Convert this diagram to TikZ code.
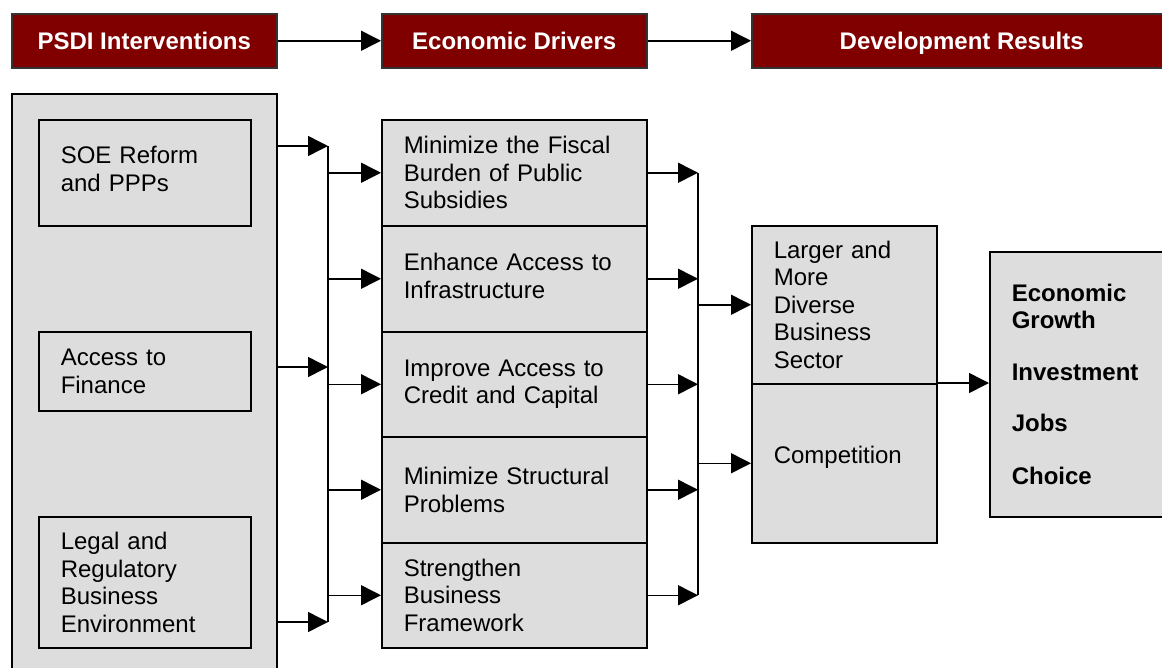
\documentclass[tikz,border=0pt]{standalone}
\usepackage{fontspec}
\setmainfont{Liberation Sans}
\usetikzlibrary{arrows.meta}
\definecolor{hdrred}{RGB}{128,0,0}
\definecolor{boxgray}{RGB}{221,221,221}

\begin{document}
\begin{tikzpicture}[x=1pt,y=-1pt,
  txt/.style={font=\fontsize{24}{27.5}\selectfont},
  hdr/.style={draw=black!80, line width=1.5pt, fill=hdrred, text=white,
    font=\fontsize{24}{27.5}\selectfont\bfseries, minimum height=54pt,
    text height=17pt, text depth=0pt, inner sep=0pt, anchor=north west},
  gbox/.style={txt, draw=black, line width=1.5pt, fill=boxgray, align=left,
    inner xsep=22pt, inner ysep=0pt, anchor=north west},
  arr/.style={line width=1.5pt, -{Triangle[length=20pt,width=20pt]}},
  wire/.style={line width=1.5pt}]

\useasboundingbox (0,0) rectangle (1162,667);
\clip (0,0) rectangle (1162,667);

% column headers
\node[hdr, minimum width=265pt] (h1) at (11,13) {PSDI Interventions};
\node[hdr, minimum width=265pt] (h2) at (381,13) {Economic Drivers};
\node[hdr, minimum width=420pt] (h3) at (751,13) {Development Results};
\draw[arr] (h1.east) -- (h2.west);
\draw[arr] (h2.east) -- (h3.west);

% interventions panel
\node[gbox, minimum width=265pt, minimum height=620pt] (panel) at (11,93) {};
\node[gbox, text width=168pt, minimum height=106pt] (soe) at (38,119) {SOE Reform\\and PPPs\rule[-8pt]{0pt}{0pt}};
\node[gbox, text width=168pt, minimum height=79pt] (fin) at (38,331) {Access to\\Finance};
\node[gbox, text width=168pt, minimum height=131pt] (legal) at (38,516) {Legal and\\Regulatory\\Business\\Environment};

% economic drivers
\node[gbox, text width=221pt, minimum height=106pt] (m1) at (381,119) {Minimize the Fiscal\\Burden of Public\\Subsidies};
\node[gbox, text width=221pt, minimum height=106pt] (m2) at (381,225) {Enhance Access to\\Infrastructure\rule[-6pt]{0pt}{0pt}};
\node[gbox, text width=221pt, minimum height=105pt] (m3) at (381,331) {Improve Access to\\Credit and Capital};
\node[gbox, text width=221pt, minimum height=106pt] (m4) at (381,436) {Minimize Structural\\Problems};
\node[gbox, text width=221pt, minimum height=105pt] (m5) at (381,542) {Strengthen\\Business\\Framework};

% intermediate results
\node[gbox, text width=141pt, minimum height=158pt] (lg) at (751,225) {Larger and\\More\\Diverse\\Business\\Sector};
\node[gbox, text width=141pt, minimum height=159pt] (cp) at (751,383) {Competition\rule[-17pt]{0pt}{0pt}};

% final results
\node[gbox, font=\fontsize{24}{27.5}\selectfont\bfseries, text width=150pt, minimum height=265pt] (res) at (989,251)
  {Economic\\Growth\\[24pt]Investment\\[24pt]Jobs\\[25pt]Choice};

% first bus: interventions to drivers
\coordinate (a1) at (328,146);
\coordinate (a2) at (328,367);
\coordinate (a3) at (328,622);
\draw[arr] (panel.east |- a1) -- (a1);
\draw[arr] (panel.east |- a2) -- (a2);
\draw[arr] (panel.east |- a3) -- (a3);
\draw[wire] (a1) -- (a3);
\foreach \m in {m1,m2,m3,m4,m5}
  \draw[arr] (a1 |- \m.west) -- (\m.west);

% second bus: drivers to intermediate results
\coordinate (b) at (698,0);
\foreach \m in {m1,m2,m3,m4,m5}
  \draw[arr] (\m.east) -- (\m.east -| b);
\draw[wire] (m1.east -| b) -- (m5.east -| b);
\draw[arr] (b |- lg.west) -- (lg.west);
\draw[arr] (b |- cp.west) -- (cp.west);

% to final results
\draw[arr] (cp.north east) -- (res.west |- cp.north east);
\end{tikzpicture}
\end{document}
